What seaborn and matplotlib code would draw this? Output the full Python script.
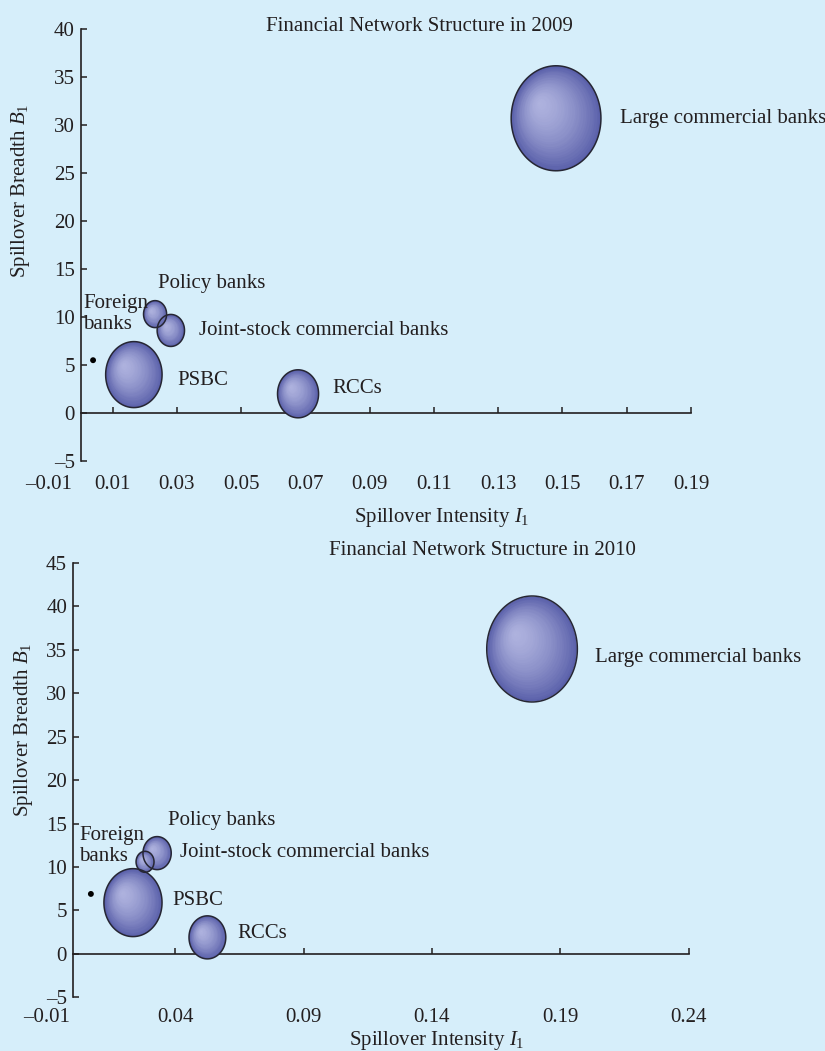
import numpy as np
import pandas as pd
import seaborn as sns
import matplotlib.pyplot as plt
from matplotlib.path import Path
from matplotlib.transforms import ScaledTranslation
from matplotlib.colors import to_rgb

# ---- data ----
banks = ["Large commercial banks", "Joint-stock commercial banks", "Policy banks",
         "PSBC", "RCCs", "Foreign banks"]

intensity_2009 = [0.148, 0.0281, 0.0232, 0.0166, 0.0677, 0.0039]
breadth_2009 = [30.7, 8.6, 10.3, 4.0, 2.0, 5.5]
weight_2009 = [100.0, 9.3, 6.6, 39.5, 20.9, 0.0]   # bubble area, relative

intensity_2010 = [0.179, 0.0329, 0.0282, 0.0235, 0.0525, 0.0071]
breadth_2010 = [35.1, 11.6, 10.6, 5.9, 1.9, 6.9]
weight_2010 = [101.9, 9.9, 4.0, 41.9, 16.8, 0.0]

xticks_2009 = [-0.01, 0.01, 0.03, 0.05, 0.07, 0.09, 0.11, 0.13, 0.15, 0.17, 0.19]
yticks_2009 = [-5, 0, 5, 10, 15, 20, 25, 30, 35, 40]
xticks_2010 = [-0.01, 0.04, 0.09, 0.14, 0.19, 0.24]
yticks_2010 = [-5, 0, 5, 10, 15, 20, 25, 30, 35, 40, 45]

# label anchor points (data coords), layout only
label_pos_2009 = {"Large commercial banks": (0.1678, 30.7), "Joint-stock commercial banks": (0.0369, 8.6),
                  "Policy banks": (0.0241, 13.5), "PSBC": (0.030, 3.4), "RCCs": (0.0785, 2.6),
                  "Foreign banks": (0.0008, 10.3)}
label_pos_2010 = {"Large commercial banks": (0.2036, 34.1), "Joint-stock commercial banks": (0.0418, 11.7),
                  "Policy banks": (0.0373, 15.4), "PSBC": (0.039, 6.1), "RCCs": (0.0643, 2.3),
                  "Foreign banks": (0.0025, 12.4)}

BG = "#d6eefa"
BASE = "#5a60aa"
HIGH = "#aeb2de"
EDGE = "#262633"
INK = "#231f20"

sns.set_theme(style="white", rc={"axes.facecolor": BG, "figure.facecolor": BG})
plt.rcParams["font.family"] = ["Liberation Serif", "DejaVu Serif"]
plt.rcParams["mathtext.fontset"] = "custom"
plt.rcParams["mathtext.rm"] = "Liberation Serif"
plt.rcParams["mathtext.it"] = "Liberation Serif:italic"
FS = 15

# ellipse marker (images of the bubbles are taller than wide)
th = np.linspace(0, 2 * np.pi, 120)
ellipse = Path(np.column_stack([0.855 * np.cos(th), np.sin(th)]), closed=True)
SMAX = 5715  # points^2 for weight 100


def dash(v, fmt):
    return (fmt % v).replace("-", "\u2013")


def draw_panel(fig, ax, x, y, w, xticks, yticks, xmax, title, title_xy, labels, xlab_xy, ylab_xy,
               xpad=10):
    df = pd.DataFrame({"bank": banks, "x": x, "y": y, "w": w})
    bub = df[df.bank != "Foreign banks"]
    dot = df[df.bank == "Foreign banks"]

    sns.scatterplot(data=bub, x="x", y="y", size="w", sizes=(0, SMAX), size_norm=(0, 100),
                    marker=ellipse, color=BASE, edgecolor="none", linewidth=0,
                    legend=False, ax=ax, zorder=3, clip_on=False)

    # radial shading toward the upper left
    c0, c1 = np.array(to_rgb(BASE)), np.array(to_rgb(HIGH))
    n = 28
    for _, r in bub.iterrows():
        s = r.w / 100 * SMAX
        rad = np.sqrt(s) / 2
        for i in range(1, n):
            f = 1 - i / n
            col = c1 + (c0 - c1) * f ** 1.6
            off = ScaledTranslation(-0.33 * rad * (1 - f) / 72, 0.30 * rad * (1 - f) / 72,
                                    fig.dpi_scale_trans)
            ax.scatter([r.x], [r.y], s=s * f * f, marker=ellipse, color=col, linewidths=0,
                       transform=ax.transData + off, zorder=4, clip_on=False)
    ax.scatter(bub.x, bub.y, s=bub.w / 100 * SMAX, marker=ellipse, facecolors="none",
               edgecolors=EDGE, linewidths=1.1, zorder=5, clip_on=False)
    sns.scatterplot(data=dot, x="x", y="y", color="black", s=18, edgecolor="none",
                    legend=False, ax=ax, zorder=5)

    for b, (lx, ly) in labels.items():
        txt = "Foreign\nbanks" if b == "Foreign banks" else b
        ax.text(lx, ly, txt, ha="left", va="center", fontsize=FS, color=INK,
                linespacing=1.15, zorder=6)

    ax.set_xlim(xticks[0], xmax)
    ax.set_ylim(yticks[0], yticks[-1])
    for s in ["top", "right"]:
        ax.spines[s].set_visible(False)
    ax.spines["left"].set_position(("data", 0))
    ax.spines["bottom"].set_position(("data", 0))
    ax.spines["bottom"].set_bounds(0, xmax)
    for s in ["left", "bottom"]:
        ax.spines[s].set_color(INK)
        ax.spines[s].set_linewidth(1.2)
    ax.set_xticks(xticks[1:])
    ax.tick_params(axis="x", bottom=True, direction="in", length=4, width=1.1, color=INK,
                   labelbottom=False)
    ax.set_yticks(yticks, labels=[dash(v, "%d") for v in yticks])
    ax.tick_params(axis="y", left=True, direction="in", length=4, width=1.1, color=INK, pad=4,
                   labelsize=FS, labelcolor=INK)

    sec = ax.secondary_xaxis("bottom")
    sec.set_xticks(xticks, labels=[dash(v, "%.2f") for v in xticks])
    sec.tick_params(bottom=True, length=0, pad=xpad, labelsize=FS, labelcolor=INK)
    for s in sec.spines.values():
        s.set_visible(False)

    ax.set_xlabel("")
    ax.set_ylabel("")
    ax.text(xlab_xy[0], xlab_xy[1], "Spillover Intensity $I_1$", transform=ax.transAxes,
            ha="center", va="center", fontsize=FS, color=INK)
    ax.text(ylab_xy[0], ylab_xy[1], "Spillover Breadth $B_1$", transform=ax.transAxes,
            ha="center", va="center", rotation=90, fontsize=FS, color=INK)
    ax.text(title_xy[0], title_xy[1], title, transform=ax.transAxes,
            ha="center", va="center", fontsize=FS, color=INK)


fig = plt.figure(figsize=(8.25, 10.51), dpi=100)
ax1 = fig.add_axes([48.4 / 825, 1 - 461 / 1051, 642.6 / 825, 432 / 1051])
ax2 = fig.add_axes([47 / 825, 1 - 997.3 / 1051, 641.6 / 825, 434.3 / 1051])

draw_panel(fig, ax1, intensity_2009, breadth_2009, weight_2009, xticks_2009, yticks_2009, 0.19,
           "Financial Network Structure in 2009", (0.578, 1.005), label_pos_2009,
           (0.6125, -0.13), (-0.043, 0.625))
draw_panel(fig, ax2, intensity_2010, breadth_2010, weight_2010, xticks_2010, yticks_2010, 0.24,
           "Financial Network Structure in 2010", (0.678, 1.028), label_pos_2010,
           (0.607, -0.1), (-0.036, 0.615), xpad=8)

fig.savefig("out.png", dpi=100, facecolor=BG)
